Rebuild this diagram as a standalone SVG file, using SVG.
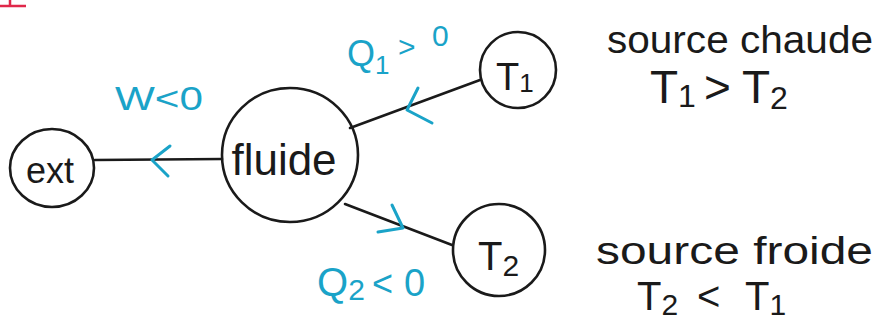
<svg xmlns="http://www.w3.org/2000/svg" width="882" height="325" viewBox="0 0 882 325">
<style>
.node{fill:none;stroke:#1a1a1a;stroke-width:2.6}
.edge{fill:none;stroke:#1a1a1a;stroke-width:2.6;stroke-linecap:round}
.arr{fill:none;stroke:#1aa3c8;stroke-width:3;stroke-linecap:round;stroke-linejoin:round}
.lbl{font-family:"Liberation Sans",Arial,sans-serif;fill:#1a1a1a}
.cy{font-family:"Liberation Sans",Arial,sans-serif;fill:#1aa3c8}
</style>
<rect width="882" height="325" fill="#ffffff"/>
<path d="M0 6 L26 6 M10 0 L10 5" stroke="#e0284a" stroke-width="2.5" fill="none"/>
<g id="connectors">
<path class="edge" d="M95 160 L222 159"/>
<path class="arr" d="M170 146 L152 160 L168 176"/>
<path class="edge" d="M350 128 L480 80"/>
<path class="arr" d="M418 88 L407 110 L432 123"/>
<path class="edge" d="M345 204 L452 245"/>
<path class="arr" d="M392 205 L403 228 L378 232"/>
</g>
<g id="ext">
<ellipse class="node" cx="52" cy="168" rx="42" ry="39"/>
<text class="lbl" x="50" y="183" font-size="36" text-anchor="middle">ext</text>
</g>
<g id="fluide">
<ellipse class="node" cx="290" cy="155" rx="68" ry="67"/>
<text class="lbl" x="284" y="175" font-size="44" text-anchor="middle">fluide</text>
</g>
<g id="T1">
<circle class="node" cx="518" cy="70" r="38"/>
<text class="lbl" x="496" y="90" font-size="38">T<tspan font-size="26" dy="2">1</tspan></text>
</g>
<g id="T2">
<circle class="node" cx="499" cy="250" r="46"/>
<text class="lbl" x="478" y="270" font-size="40">T<tspan font-size="30" dy="6">2</tspan></text>
</g>
<g id="labels">
<text class="cy" x="115" y="110" font-size="34" textLength="88" lengthAdjust="spacingAndGlyphs">W&lt;0</text>
<text class="cy" x="347" y="66" font-size="36">Q<tspan font-size="26" dy="8">1</tspan></text>
<text class="cy" x="398" y="57" font-size="30">&gt;</text>
<text class="cy" x="432" y="46" font-size="30">0</text>
<text class="cy" x="317" y="296" font-size="40">Q<tspan font-size="30" dy="4">2</tspan><tspan dy="-4" font-size="36" x="372">&lt;</tspan><tspan font-size="38" x="404">0</tspan></text>
<text class="lbl" x="607" y="53" font-size="38" textLength="266" lengthAdjust="spacingAndGlyphs">source chaude</text>
<text class="lbl" x="650" y="103" font-size="46">T<tspan font-size="32" dy="4">1</tspan><tspan dy="-4" x="704">&gt;</tspan><tspan x="742">T</tspan><tspan font-size="32" dy="6">2</tspan></text>
<text class="lbl" x="596" y="264" font-size="38" textLength="277" lengthAdjust="spacingAndGlyphs">source froide</text>
<text class="lbl" x="637" y="310" font-size="40">T<tspan font-size="30" dy="5">2</tspan><tspan dy="-5" x="697">&lt;</tspan><tspan x="745">T</tspan><tspan font-size="30" dy="5">1</tspan></text>
</g>
</svg>
